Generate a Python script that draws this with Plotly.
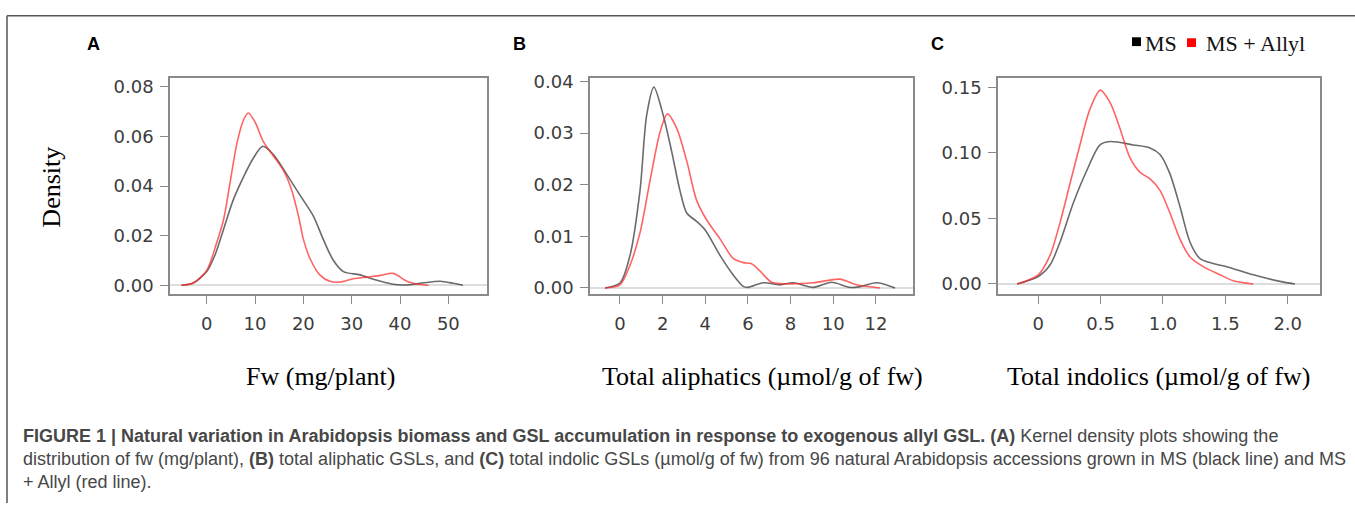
import plotly.graph_objects as go

W, H = 1355, 507

# ---------------- data ----------------
# Panel A: Fw (mg/plant)
a_x_ms = [-5.2, -2.8, 0.0, 1.7, 3.5, 5.5, 7.6, 9.7, 11.6, 13.8, 16.5, 19.3, 22.1, 24.1, 26.2, 28.3, 31.7, 34.5, 38.6, 40.5, 42.5, 45.0, 48.3, 51.0, 53.0]
a_y_ms = [0.0, 0.0009, 0.0055, 0.0121, 0.0226, 0.0344, 0.0436, 0.0514, 0.0560, 0.0527, 0.0449, 0.0363, 0.0278, 0.0186, 0.0101, 0.0055, 0.0042, 0.0024, 0.0004, 0.0001, 0.0003, 0.0010, 0.0016, 0.0008, 0.0]
a_x_allyl = [-5.2, -2.8, 0.0, 2.1, 3.5, 4.8, 6.2, 7.6, 8.6, 10.0, 11.7, 13.8, 15.9, 17.6, 19.0, 20.0, 21.4, 23.4, 25.5, 27.6, 30.3, 33.1, 36.0, 38.6, 41.4, 43.5, 45.9]
a_y_allyl = [0.0, 0.0009, 0.0060, 0.0173, 0.0265, 0.0409, 0.0567, 0.0665, 0.0694, 0.0658, 0.0580, 0.0521, 0.0462, 0.0383, 0.0278, 0.0186, 0.0107, 0.0042, 0.0016, 0.0013, 0.0026, 0.0033, 0.0040, 0.0048, 0.0016, 0.0005, 0.0]

# Panel B: Total aliphatics (umol/g of fw)
b_x_ms = [-0.7, 0.0, 0.47, 0.94, 1.25, 1.59, 2.03, 2.42, 2.81, 3.13, 3.59, 3.98, 4.69, 5.31, 5.78, 6.0, 6.72, 7.5, 8.13, 9.06, 9.92, 10.78, 11.2, 12.03, 12.9]
b_y_ms = [0.0, 0.00095, 0.0063, 0.0189, 0.0334, 0.0389, 0.0334, 0.0265, 0.0189, 0.0145, 0.0129, 0.0113, 0.0063, 0.0025, 0.0003, 0.0001, 0.0010, 0.0006, 0.0010, 0.0001, 0.0011, 0.0001, 0.0002, 0.0010, 0.0]
b_x_allyl = [-0.7, 0.0, 0.47, 0.94, 1.41, 1.88, 2.22, 2.66, 3.13, 3.59, 4.06, 4.69, 5.31, 5.78, 6.17, 6.56, 7.11, 7.8, 9.06, 10.31, 11.1, 12.2]
b_y_allyl = [0.0, 0.0006, 0.0044, 0.0107, 0.0208, 0.0302, 0.0337, 0.0309, 0.0246, 0.0170, 0.0132, 0.0095, 0.0057, 0.0049, 0.0047, 0.0033, 0.0011, 0.0008, 0.0010, 0.0017, 0.0006, 0.0]

# Panel C: Total indolics (umol/g of fw)
c_x_ms = [-0.17, 0.0, 0.094, 0.174, 0.28, 0.388, 0.495, 0.575, 0.762, 0.896, 0.976, 1.056, 1.136, 1.217, 1.297, 1.403, 1.51, 1.724, 1.938, 2.058]
c_y_ms = [0.0, 0.0057, 0.0144, 0.0318, 0.0615, 0.0863, 0.1060, 0.1086, 0.1060, 0.1037, 0.0987, 0.0839, 0.0590, 0.0318, 0.0193, 0.0156, 0.0132, 0.0070, 0.0020, 0.0]
c_x_allyl = [-0.17, 0.0, 0.094, 0.174, 0.254, 0.334, 0.415, 0.497, 0.575, 0.655, 0.735, 0.816, 0.896, 0.976, 1.056, 1.136, 1.217, 1.323, 1.457, 1.563, 1.724]
c_y_allyl = [0.0, 0.0070, 0.0218, 0.0466, 0.0764, 0.1060, 0.1335, 0.1478, 0.1384, 0.1186, 0.0963, 0.0851, 0.0801, 0.0714, 0.0541, 0.0342, 0.0206, 0.0132, 0.0070, 0.0025, 0.0]

# tick values / labels
a_xticks = [0, 10, 20, 30, 40, 50]
a_yticks = [0.00, 0.02, 0.04, 0.06, 0.08]
b_xticks = [0, 2, 4, 6, 8, 10, 12]
b_yticks = [0.00, 0.01, 0.02, 0.03, 0.04]
c_xticks = [0, 0.5, 1.0, 1.5, 2.0]
c_xticklabels = ["0", "0.5", "1.0", "1.5", "2.0"]
c_yticks = [0.00, 0.05, 0.10, 0.15]

panel_letters = ["A", "B", "C"]
x_titles = ["Fw (mg/plant)", "Total aliphatics (\u00b5mol/g of fw)", "Total indolics (\u00b5mol/g of fw)"]
y_title = "Density"
legend_labels = ["MS", "MS + Allyl"]

caption_lines = [
    "<b>FIGURE 1 | Natural variation in Arabidopsis biomass and GSL accumulation in response to exogenous allyl GSL. (A)</b> Kernel density plots showing the",
    "distribution of fw (mg/plant), <b>(B)</b> total aliphatic GSLs, and <b>(C)</b> total indolic GSLs (\u00b5mol/g of fw) from 96 natural Arabidopsis accessions grown in MS (black line) and MS",
    "+ Allyl (red line).",
]

# ---------------- styling ----------------
MS_COLOR = "rgba(50,50,50,0.72)"
ALLYL_COLOR = "rgba(255,40,40,0.72)"
BOX = "#8a8a8a"
TICKFONT = dict(family="DejaVu Sans", size=18, color="#3c3c3c")
SERIF = "Liberation Serif"


def px_x(p):
    return p / W


def px_y(p):
    return 1 - p / H


fig = go.Figure()

panels = [
    dict(xs=(a_x_ms, a_x_allyl), ys=(a_y_ms, a_y_allyl), box=(170, 487, 72, 293),
         xr=[-7.59, 58.0], yr=[-0.00354, 0.0834], xt=a_xticks, xtt=None, yt=a_yticks),
    dict(xs=(b_x_ms, b_x_allyl), ys=(b_y_ms, b_y_allyl), box=(590, 913, 72, 293),
         xr=[-1.406, 13.74], yr=[-0.00119, 0.0406], xt=b_xticks, xtt=None, yt=b_yticks),
    dict(xs=(c_x_ms, c_x_allyl), ys=(c_y_ms, c_y_allyl), box=(998, 1320, 72, 293),
         xr=[-0.323, 2.259], yr=[-0.0077, 0.1568], xt=c_xticks, xtt=c_xticklabels, yt=c_yticks),
]

layout_axes = {}
for i, p in enumerate(panels):
    sfx = "" if i == 0 else str(i + 1)
    xa, ya = "x" + sfx, "y" + sfx
    for xs, ys, col, name in zip(p["xs"], p["ys"], (MS_COLOR, ALLYL_COLOR), legend_labels):
        fig.add_trace(go.Scatter(x=xs, y=ys, mode="lines", name=name, xaxis=xa, yaxis=ya,
                                 line=dict(color=col, width=1.6, shape="spline", smoothing=0.8),
                                 showlegend=False, hoverinfo="skip"))
    x0, x1, y0, y1 = p["box"]
    xaxis = dict(domain=[px_x(x0), px_x(x1)], range=p["xr"], anchor=ya,
                 showgrid=False, zeroline=False, showline=True, mirror=True,
                 linecolor=BOX, linewidth=1.5, ticks="outside", ticklen=8,
                 tickcolor=BOX, tickwidth=1.3, tickfont=TICKFONT,
                 tickvals=p["xt"], ticklabelstandoff=5)
    if p["xtt"] is not None:
        xaxis["ticktext"] = p["xtt"]
    yaxis = dict(domain=[px_y(y1), px_y(y0)], range=p["yr"], anchor=xa,
                 showgrid=False, zeroline=True, zerolinecolor="#dddddd", zerolinewidth=1.5,
                 showline=True, mirror=True, linecolor=BOX, linewidth=1.5,
                 ticks="outside", ticklen=8, tickcolor=BOX, tickwidth=1.3,
                 tickfont=TICKFONT, tickvals=p["yt"], tickformat=".2f",
                 ticklabelstandoff=3)
    layout_axes["xaxis" + sfx] = xaxis
    layout_axes["yaxis" + sfx] = yaxis

annotations = []
letter_x = [93, 519, 937]
for lt, lx in zip(panel_letters, letter_x):
    annotations.append(dict(text="<b>" + lt + "</b>", x=px_x(lx), y=px_y(36.5), xref="paper", yref="paper",
                            xanchor="center", yanchor="middle", showarrow=False,
                            font=dict(family="Liberation Sans", size=18, color="#000000")))

title_x = [321, 762, 1158]
for t, tx in zip(x_titles, title_x):
    annotations.append(dict(text=t, x=px_x(tx), y=px_y(377), xref="paper", yref="paper",
                            xanchor="center", yanchor="middle", showarrow=False,
                            font=dict(family=SERIF, size=26, color="#000000")))

annotations.append(dict(text=y_title, x=px_x(52), y=px_y(184), xref="paper", yref="paper",
                        xanchor="center", yanchor="middle", showarrow=False, textangle=-90,
                        font=dict(family=SERIF, size=26, color="#000000")))

# legend text
annotations.append(dict(text=legend_labels[0], x=px_x(1143), y=px_y(36.5), xref="paper", yref="paper",
                        xanchor="left", yanchor="middle", showarrow=False,
                        font=dict(family=SERIF, size=22, color="#111111")))
annotations.append(dict(text=legend_labels[1], x=px_x(1204), y=px_y(36.5), xref="paper", yref="paper",
                        xanchor="left", yanchor="middle", showarrow=False,
                        font=dict(family=SERIF, size=22, color="#111111")))

cap_y = [438.5, 462, 486]
for line, cy in zip(caption_lines, cap_y):
    annotations.append(dict(text=line, x=px_x(21), y=px_y(cy), xref="paper", yref="paper",
                            xanchor="left", yanchor="middle", showarrow=False,
                            font=dict(family="Liberation Sans", size=18, color="#474747")))

shapes = [
    dict(type="line", xref="paper", yref="paper", x0=px_x(7), x1=1, y0=px_y(8), y1=px_y(8),
         line=dict(color="#555555", width=1.5)),
    dict(type="line", xref="paper", yref="paper", x0=px_x(7), x1=px_x(7), y0=px_y(8), y1=0,
         line=dict(color="#555555", width=1.5)),
    dict(type="rect", xref="paper", yref="paper", x0=px_x(1132), x1=px_x(1141), y0=px_y(39), y1=px_y(30),
         fillcolor="#000000", line=dict(width=0)),
    dict(type="rect", xref="paper", yref="paper", x0=px_x(1187), x1=px_x(1196), y0=px_y(40), y1=px_y(31),
         fillcolor="#ff0000", line=dict(width=0)),
]

fig.update_layout(width=W, height=H, margin=dict(l=0, r=0, t=0, b=0),
                  paper_bgcolor="white", plot_bgcolor="white",
                  annotations=annotations, shapes=shapes, **layout_axes)

# remove the browser's default 8px page margin so the figure fills the window exactly
fig.write_html("out.html", config={"displayModeBar": False},
               post_script="document.body.style.margin='0';document.body.style.overflow='hidden';")
